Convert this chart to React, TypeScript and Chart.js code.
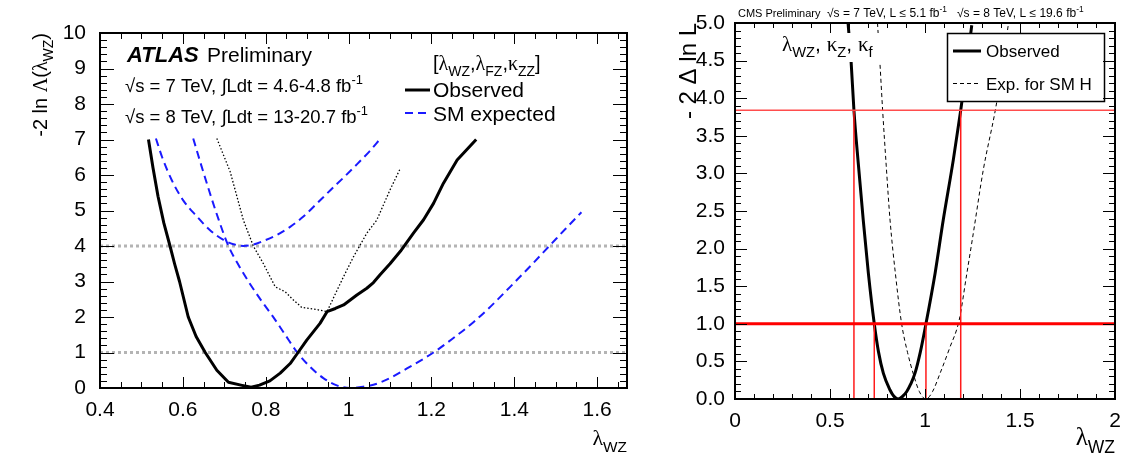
import React, { useEffect, useRef } from "react";
import { Chart, registerables } from "chart.js";

Chart.register(...registerables);

const SANS = '"Liberation Sans", Arial, Helvetica, sans-serif';
const SERIF = '"Liberation Serif", "Times New Roman", serif';

// ---------------- ATLAS panel (left) ----------------
const atlasXRange = [0.4, 1.672];
const atlasYRange = [0, 10];
const atlasXTicks = [0.4, 0.6, 0.8, 1.0, 1.2, 1.4, 1.6];
const atlasXTickLabels = ["0.4", "0.6", "0.8", "1", "1.2", "1.4", "1.6"];
const atlasYTicks = [0, 1, 2, 3, 4, 5, 6, 7, 8, 9, 10];
const atlasYTickLabels = ["0", "1", "2", "3", "4", "5", "6", "7", "8", "9", "10"];
const atlasRefLevels = [1, 4];

const atlasObsX = [0.517, 0.528, 0.54, 0.554, 0.569, 0.58, 0.592, 0.613, 0.632, 0.654, 0.682, 0.71, 0.74, 0.765, 0.785, 0.81, 0.835, 0.859, 0.878, 0.899, 0.931, 0.948, 0.968, 0.988, 1.02, 1.044, 1.06, 1.076, 1.1, 1.125, 1.157, 1.181, 1.205, 1.229, 1.262, 1.308];
const atlasObsY = [7.0, 6.2, 5.4, 4.65, 4.0, 3.5, 3.0, 2.0, 1.45, 1.0, 0.5, 0.16, 0.08, 0.02, 0.08, 0.2, 0.42, 0.69, 1.0, 1.35, 1.82, 2.15, 2.24, 2.34, 2.62, 2.81, 2.97, 3.19, 3.5, 3.85, 4.37, 4.74, 5.2, 5.77, 6.42, 7.0];

const atlasDotX = [0.682, 0.714, 0.746, 0.77, 0.794, 0.823, 0.847, 0.865, 0.887, 0.923, 0.948, 0.968, 0.988, 1.012, 1.044, 1.068, 1.1, 1.125];
const atlasDotY = [7.03, 6.1, 4.73, 4.0, 3.51, 2.85, 2.71, 2.5, 2.27, 2.21, 2.15, 2.65, 3.14, 3.7, 4.36, 4.73, 5.58, 6.19];

const atlasExpAX = [0.535, 0.55, 0.573, 0.6, 0.634, 0.665, 0.698, 0.722, 0.746, 0.77, 0.794, 0.825, 0.859, 0.891, 0.922, 0.956, 0.99, 1.02, 1.05, 1.075];
const atlasExpAY = [7.03, 6.5, 5.86, 5.3, 4.83, 4.45, 4.17, 4.05, 4.0, 4.04, 4.14, 4.3, 4.54, 4.83, 5.18, 5.57, 5.95, 6.3, 6.66, 7.0];

const atlasExpBX = [0.625, 0.645, 0.665, 0.687, 0.71, 0.735, 0.76, 0.79, 0.82, 0.848, 0.875, 0.905, 0.939, 0.97, 1.004, 1.03, 1.06, 1.1, 1.141, 1.205, 1.25, 1.302, 1.345, 1.39, 1.44, 1.487, 1.525, 1.562];
const atlasExpBY = [7.03, 6.25, 5.5, 4.72, 4.0, 3.45, 2.97, 2.45, 1.97, 1.48, 1.02, 0.62, 0.28, 0.08, 0.0, 0.03, 0.09, 0.28, 0.55, 1.0, 1.38, 1.86, 2.32, 2.85, 3.45, 4.03, 4.5, 4.95];

// ---------------- CMS panel (right) ----------------
const cmsXRange = [0, 2];
const cmsYRange = [0, 5];
const cmsXTicks = [0, 0.5, 1, 1.5, 2];
const cmsXTickLabels = ["0", "0.5", "1", "1.5", "2"];
const cmsYTicks = [0, 0.5, 1, 1.5, 2, 2.5, 3, 3.5, 4, 4.5, 5];
const cmsYTickLabels = ["0.0", "0.5", "1.0", "1.5", "2.0", "2.5", "3.0", "3.5", "4.0", "4.5", "5.0"];
const cmsLevels = [1.0, 3.84];
const cmsInterval68 = [0.733, 1.005];
const cmsInterval95 = [0.626, 1.188];

const cmsObsX = [0.595, 0.611, 0.626, 0.65, 0.675, 0.702, 0.733, 0.755, 0.781, 0.816, 0.835, 0.858, 0.88, 0.904, 0.925, 0.947, 0.975, 1.005, 1.053, 1.096, 1.149, 1.188, 1.219, 1.246];
const cmsObsY = [5.0, 4.49, 3.84, 3.1, 2.38, 1.67, 1.0, 0.63, 0.34, 0.12, 0.04, 0.0, 0.03, 0.1, 0.2, 0.34, 0.62, 1.0, 1.67, 2.38, 3.18, 3.84, 4.42, 4.97];

const cmsExpX = [0.75, 0.763, 0.777, 0.796, 0.816, 0.845, 0.877, 0.908, 0.939, 0.97, 1.005, 1.04, 1.079, 1.13, 1.18, 1.219, 1.254, 1.307, 1.37, 1.4, 1.438];
const cmsExpY = [5.0, 4.46, 3.84, 3.1, 2.38, 1.65, 1.0, 0.62, 0.33, 0.1, 0.0, 0.1, 0.34, 0.68, 1.05, 1.65, 2.2, 3.05, 3.84, 4.3, 4.97];

const pts = (xs: number[], ys: number[]) => xs.map((x, i) => ({ x, y: ys[i] }));

// ---------------- rich text helper ----------------
const GREEK = /[\u0370-\u03FF]/;
type Seg = { t: string; mode: number };
function parseRich(s: string): Seg[] {
  const out: Seg[] = [];
  let buf = "";
  let i = 0;
  while (i < s.length) {
    const c = s[i];
    if ((c === "_" || c === "^") && s[i + 1] === "{") {
      if (buf) { out.push({ t: buf, mode: 0 }); buf = ""; }
      const end = s.indexOf("}", i);
      out.push({ t: s.slice(i + 2, end), mode: c === "_" ? 1 : 2 });
      i = end + 1;
    } else { buf += c; i++; }
  }
  if (buf) out.push({ t: buf, mode: 0 });
  return out;
}
type RichOpts = { size: number; align?: string; weight?: string; style?: string; color?: string; subScale?: number; subDrop?: number; supRise?: number; greekSerif?: boolean };
function drawRich(ctx: CanvasRenderingContext2D, text: string, x: number, y: number, o: RichOpts) {
  const items: any[] = [];
  for (const s of parseRich(text)) {
    const sz = s.mode === 0 ? o.size : o.size * (o.subScale ?? 0.7);
    const dy = s.mode === 1 ? o.size * (o.subDrop ?? 0.3) : s.mode === 2 ? -o.size * (o.supRise ?? 0.42) : 0;
    let cur = "";
    let curG: boolean | null = null;
    for (const ch of s.t) {
      const g = GREEK.test(ch);
      if (curG !== null && g !== curG) { items.push({ t: cur, sz, dy, g: curG }); cur = ""; }
      cur += ch; curG = g;
    }
    if (cur) items.push({ t: cur, sz, dy, g: curG });
  }
  const fontOf = (it: any) => `${o.style || "normal"} ${o.weight || "normal"} ${it.sz}px ${it.g && o.greekSerif !== false ? SERIF : SANS}`;
  let total = 0;
  for (const it of items) { ctx.font = fontOf(it); it.w = ctx.measureText(it.t).width; total += it.w; }
  let cx = o.align === "right" ? x - total : o.align === "center" ? x - total / 2 : x;
  ctx.fillStyle = o.color || "#000";
  ctx.textBaseline = "alphabetic";
  ctx.textAlign = "left";
  for (const it of items) { ctx.font = fontOf(it); ctx.fillText(it.t, cx, y + it.dy); cx += it.w; }
  return total;
}

// ---------------- frame + inward ticks ----------------
type TickSpec = { xMajor: number[]; xMinor: number; yMajor: number[]; yMinor: number; xMaj: number; xMin: number; yMaj: number; yMin: number; frame: number };
function stepVals(min: number, max: number, step: number) {
  const out: number[] = [];
  const n0 = Math.ceil(min / step - 1e-6);
  const n1 = Math.floor(max / step + 1e-6);
  for (let n = n0; n <= n1; n++) out.push(n * step);
  return out;
}
function drawFrame(chart: any, sp: TickSpec) {
  const { ctx, chartArea: a } = chart;
  const xs = chart.scales.x;
  const ys = chart.scales.y;
  ctx.save();
  ctx.strokeStyle = "#000";
  ctx.lineWidth = 1;
  ctx.beginPath();
  for (const v of stepVals(xs.min, xs.max, sp.xMinor)) {
    const px = Math.round(xs.getPixelForValue(v)) + 0.5;
    const maj = sp.xMajor.some((m) => Math.abs(m - v) < 1e-6);
    const len = maj ? sp.xMaj : sp.xMin;
    ctx.moveTo(px, a.bottom); ctx.lineTo(px, a.bottom - len);
    ctx.moveTo(px, a.top); ctx.lineTo(px, a.top + len);
  }
  for (const v of stepVals(ys.min, ys.max, sp.yMinor)) {
    const py = Math.round(ys.getPixelForValue(v)) + 0.5;
    const maj = sp.yMajor.some((m) => Math.abs(m - v) < 1e-6);
    const len = maj ? sp.yMaj : sp.yMin;
    ctx.moveTo(a.left, py); ctx.lineTo(a.left + len, py);
    ctx.moveTo(a.right, py); ctx.lineTo(a.right - len, py);
  }
  ctx.stroke();
  ctx.lineWidth = sp.frame;
  ctx.strokeRect(a.left, a.top, a.right - a.left, a.bottom - a.top);
  ctx.restore();
}

function hline(y: number, x0: number, x1: number) {
  return [{ x: x0, y }, { x: x1, y }];
}
function vline(x: number, y0: number, y1: number) {
  return [{ x, y: y0 }, { x, y: y1 }];
}

const baseLine = { showLine: true, pointRadius: 0, pointHoverRadius: 0, fill: false, borderJoinStyle: "round" as const };

function makeScale(range: number[], ticks: number[], labels: string[], size: number, padding: number, fitKey: "width" | "height", fitVal: number) {
  return {
    type: "linear" as const,
    min: range[0],
    max: range[1],
    grid: { display: false },
    border: { display: false },
    afterBuildTicks: (s: any) => { s.ticks = ticks.map((v) => ({ value: v })); },
    afterFit: (s: any) => { s[fitKey] = fitVal; },
    ticks: {
      autoSkip: false,
      maxRotation: 0,
      minRotation: 0,
      padding,
      color: "#000",
      font: { family: SANS, size },
      callback: (_v: any, i: number) => labels[i],
    },
  };
}

export default function App() {
  const leftRef = useRef<HTMLCanvasElement>(null);
  const rightRef = useRef<HTMLCanvasElement>(null);

  useEffect(() => {
    const blue = "#1a1aff";
    // ---------- left chart ----------
    const leftOverlay = {
      id: "atlasOverlay",
      afterDraw(chart: any) {
        const ctx = chart.ctx as CanvasRenderingContext2D;
        drawFrame(chart, { xMajor: atlasXTicks, xMinor: 0.05, yMajor: atlasYTicks, yMinor: 0.2, xMaj: 11, xMin: 6, yMaj: 14, yMin: 7, frame: 2 });
        ctx.save();
        // ATLAS label
        ctx.font = `italic bold 22px ${SANS}`;
        ctx.fillStyle = "#000";
        ctx.textBaseline = "alphabetic";
        ctx.fillText("ATLAS", 127, 62);
        drawRich(ctx, "Preliminary", 207, 62, { size: 21 });
        drawRich(ctx, "\u221As = 7 TeV, \u222BLdt = 4.6-4.8 fb^{-1}", 125, 92, { size: 18.5 });
        drawRich(ctx, "\u221As = 8 TeV, \u222BLdt = 13-20.7 fb^{-1}", 125, 123, { size: 18.5 });
        // legend
        drawRich(ctx, "[\u03BB_{WZ},\u03BB_{FZ},\u03BA_{ZZ}]", 433, 70, { size: 20 });
        ctx.lineWidth = 3; ctx.strokeStyle = "#000"; ctx.setLineDash([]);
        ctx.beginPath(); ctx.moveTo(405, 90); ctx.lineTo(430, 90); ctx.stroke();
        drawRich(ctx, "Observed", 433, 97, { size: 21 });
        ctx.lineWidth = 2; ctx.strokeStyle = blue; ctx.setLineDash([8, 5]);
        ctx.beginPath(); ctx.moveTo(405, 113); ctx.lineTo(431, 113); ctx.stroke();
        ctx.setLineDash([]);
        drawRich(ctx, "SM expected", 433, 121, { size: 21 });
        // axis titles
        drawRich(ctx, "\u03BB_{WZ}", 627, 445, { size: 22, align: "right" });
        ctx.translate(47, 33);
        ctx.rotate(-Math.PI / 2);
        drawRich(ctx, "-2 ln \u039B(\u03BB_{WZ})", 0, 0, { size: 20, align: "right" });
        ctx.restore();
      },
    };

    const left = new Chart(leftRef.current!, {
      type: "scatter",
      data: {
        datasets: [
          { ...baseLine, data: pts(atlasObsX, atlasObsY), borderColor: "#000", borderWidth: 3, order: 1 },
          { ...baseLine, data: pts(atlasDotX, atlasDotY), borderColor: "#000", borderWidth: 1.3, borderDash: [1.5, 2], order: 2 },
          { ...baseLine, data: pts(atlasExpAX, atlasExpAY), borderColor: blue, borderWidth: 2, borderDash: [8, 5], cubicInterpolationMode: "monotone", order: 3 },
          { ...baseLine, data: pts(atlasExpBX, atlasExpBY), borderColor: blue, borderWidth: 2, borderDash: [8, 5], cubicInterpolationMode: "monotone", order: 4 },
          ...atlasRefLevels.map((lv, i) => ({ ...baseLine, data: hline(lv, atlasXRange[0], atlasXRange[1]), borderColor: "#b4b4b4", borderWidth: 3, borderDash: [3, 3], order: 10 + i })),
        ],
      },
      options: {
        animation: false,
        responsive: false,
        events: [],
        layout: { padding: { top: 33, right: 33, left: 0, bottom: 0 } },
        plugins: { legend: { display: false }, tooltip: { enabled: false } },
        scales: {
          x: makeScale(atlasXRange, atlasXTicks, atlasXTickLabels, 21, 2, "height", 66),
          y: makeScale(atlasYRange, atlasYTicks, atlasYTickLabels, 21, 6, "width", 100),
        },
      } as any,
      plugins: [leftOverlay],
    });

    // ---------- right chart ----------
    const OFF = 660;
    const rightOverlay = {
      id: "cmsOverlay",
      afterDraw(chart: any) {
        const ctx = chart.ctx as CanvasRenderingContext2D;
        ctx.save();
        ctx.translate(-OFF, 0);
        // white box behind the parameter label
        ctx.fillStyle = "#fff";
        ctx.fillRect(777, 33, 107, 29);
        // legend box
        ctx.fillRect(947, 33, 158, 69);
        ctx.lineWidth = 1.5; ctx.strokeStyle = "#000";
        ctx.strokeRect(947.5, 33.5, 157, 68);
        ctx.restore();

        drawFrame(chart, { xMajor: cmsXTicks, xMinor: 0.1, yMajor: cmsYTicks, yMinor: 0.1, xMaj: 10, xMin: 5, yMaj: 12, yMin: 6, frame: 2 });

        ctx.save();
        ctx.translate(-OFF, 0);
        drawRich(ctx, "\u03BB_{WZ}, \u03BA_{Z}, \u03BA_{f}", 782, 51, { size: 21, subDrop: 0.3 });
        // legend entries
        ctx.lineWidth = 3; ctx.strokeStyle = "#000"; ctx.setLineDash([]);
        ctx.beginPath(); ctx.moveTo(953, 51); ctx.lineTo(981, 51); ctx.stroke();
        drawRich(ctx, "Observed", 986, 57, { size: 17 });
        ctx.lineWidth = 1; ctx.setLineDash([4, 3]);
        ctx.beginPath(); ctx.moveTo(953, 83.5); ctx.lineTo(981, 83.5); ctx.stroke();
        ctx.setLineDash([]);
        drawRich(ctx, "Exp. for SM H", 986, 90, { size: 17 });
        // header
        drawRich(ctx, "CMS Preliminary", 738, 17, { size: 11 });
        drawRich(ctx, "\u221As = 7 TeV, L \u2264 5.1 fb^{-1}", 827, 17, { size: 12 });
        drawRich(ctx, "\u221As = 8 TeV, L \u2264 19.6 fb^{-1}", 957, 17, { size: 12 });
        // axis titles
        drawRich(ctx, "\u03BB_{WZ}", 1115, 445, { size: 25, align: "right" });
        ctx.translate(696, 23);
        ctx.rotate(-Math.PI / 2);
        drawRich(ctx, "- 2 \u0394 ln L", 0, 0, { size: 24, align: "right", greekSerif: false });
        ctx.restore();
      },
    };

    const red = "#ff1a1a";
    const right = new Chart(rightRef.current!, {
      type: "scatter",
      data: {
        datasets: [
          { ...baseLine, data: hline(cmsLevels[0], cmsXRange[0], cmsXRange[1]), borderColor: "#ff0000", borderWidth: 3, order: 0 },
          { ...baseLine, data: hline(cmsLevels[1], cmsXRange[0], cmsXRange[1]), borderColor: "#ff4d4d", borderWidth: 1.5, order: 0 },
          ...cmsInterval68.map((x) => ({ ...baseLine, data: vline(x, cmsYRange[0], cmsLevels[0]), borderColor: red, borderWidth: 1.5, order: 0 })),
          ...cmsInterval95.map((x) => ({ ...baseLine, data: vline(x, cmsYRange[0], cmsLevels[1]), borderColor: red, borderWidth: 1.5, order: 0 })),
          { ...baseLine, data: pts(cmsObsX, cmsObsY), borderColor: "#000", borderWidth: 3, cubicInterpolationMode: "monotone", order: 1 },
          { ...baseLine, data: pts(cmsExpX, cmsExpY), borderColor: "#000", borderWidth: 1, borderDash: [4, 3], cubicInterpolationMode: "monotone", order: 2 },
        ],
      },
      options: {
        animation: false,
        responsive: false,
        events: [],
        layout: { padding: { top: 23, right: 11, left: 0, bottom: 0 } },
        plugins: { legend: { display: false }, tooltip: { enabled: false } },
        scales: {
          x: makeScale(cmsXRange, cmsXTicks, cmsXTickLabels, 21, 2, "height", 55),
          y: makeScale(cmsYRange, cmsYTicks, cmsYTickLabels, 21, 2, "width", 75),
        },
      } as any,
      plugins: [rightOverlay],
    });

    return () => {
      left.destroy();
      right.destroy();
    };
  }, []);

  return (
    <div style={{ position: "absolute", left: 0, top: 0, width: 1126, height: 454, background: "#fff", overflow: "hidden" }}>
      <canvas ref={leftRef} width={660} height={454} style={{ position: "absolute", left: 0, top: 0 }} />
      <canvas ref={rightRef} width={466} height={454} style={{ position: "absolute", left: 660, top: 0 }} />
    </div>
  );
}
